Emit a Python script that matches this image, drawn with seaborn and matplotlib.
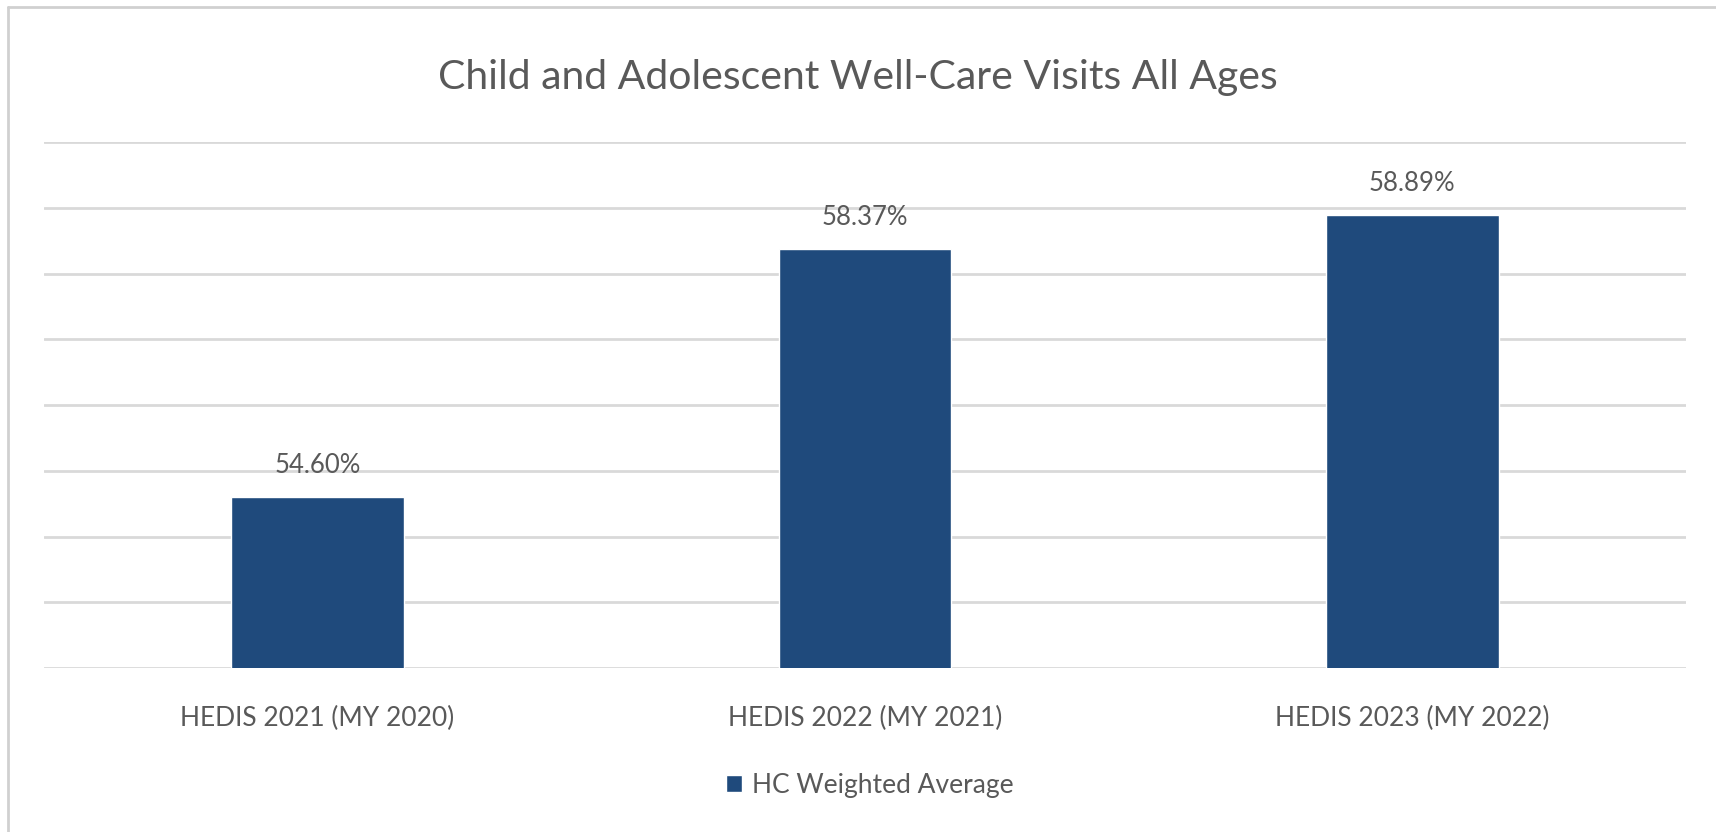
import matplotlib
matplotlib.use('Agg')
import matplotlib.pyplot as plt
import seaborn as sns
import pandas as pd

# data
categories = ["HEDIS 2021 (MY 2020)", "HEDIS 2022 (MY 2021)", "HEDIS 2023 (MY 2022)"]
values = [54.60, 58.37, 58.89]
series_name = "HC Weighted Average"
title = "Child and Adolescent Well-Care Visits All Ages"

sns.set_style("white")
plt.rcParams['font.family'] = ['Lato', 'DejaVu Sans']

bar_color = '#1f4a7c'
text_color = '#595959'
grid_color = '#d9d9d9'

df = pd.DataFrame({"measure": categories, "rate": values})

fig = plt.figure(figsize=(17.16, 8.32), dpi=100)
ax = fig.add_axes([0.0256, 0.197, 0.9569, 0.632])

sns.barplot(data=df, x="measure", y="rate", color=bar_color, width=0.315,
            label=series_name, ax=ax, saturation=1)

ax.set_ylim(52, 60)
ax.set_yticks(range(52, 61))
ax.yaxis.grid(True, color=grid_color, linewidth=2)
ax.set_axisbelow(True)
ax.tick_params(axis='y', left=False, labelleft=False)
ax.tick_params(axis='x', bottom=False, labelsize=19, labelcolor=text_color, pad=24)
for s in ax.spines.values():
    s.set_visible(False)
ax.set_xlabel("")
ax.set_ylabel("")

ax.bar_label(ax.containers[0], labels=[f"{v:.2f}%" for v in values],
             padding=14, fontsize=18.5, color=text_color)

fig.suptitle(title, x=0.5, y=0.907, va='center', fontsize=29.5, color=text_color)

leg = ax.legend(loc='upper center', bbox_to_anchor=(0.503, -0.154), frameon=False,
                fontsize=19, handlelength=0.6, handleheight=0.6, handletextpad=0.4)
for t in leg.get_texts():
    t.set_color(text_color)

# outer chart border (left and top edges visible in the reference)
fig.add_artist(plt.Line2D([8 / 1716, 8 / 1716], [0, 1 - 7 / 832], transform=fig.transFigure,
                          color='#d0d0d0', linewidth=2))
fig.add_artist(plt.Line2D([8 / 1716, 1], [1 - 7 / 832, 1 - 7 / 832], transform=fig.transFigure,
                          color='#d0d0d0', linewidth=2))

fig.savefig('out.png', dpi=100)
